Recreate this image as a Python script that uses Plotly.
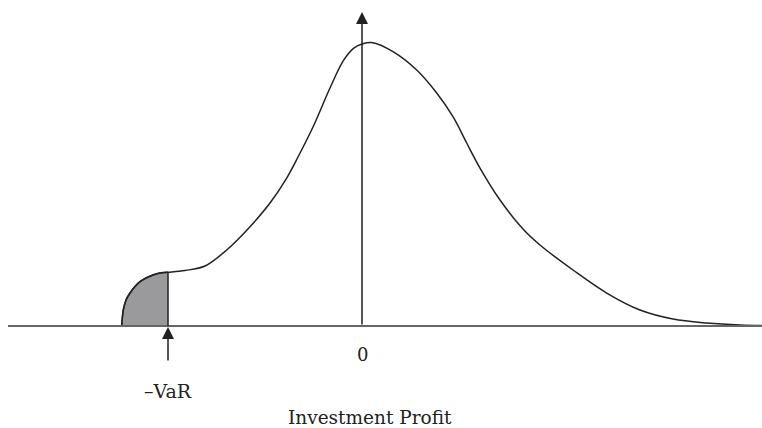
import plotly.graph_objects as go

# Investment profit (x, arbitrary units; 0 = break-even) and probability density (y)
profit = [-4.806, -4.79, -4.774, -4.72, -4.64, -4.54, -4.44, -4.32, -4.18, -4.04, -3.88,
          -3.54, -3.14, -2.706, -2.24, -1.84, -1.506, -1.28, -0.98, -0.64, -0.37, -0.17,
          0.0, 0.22, 0.62, 1.094, 1.494, 1.82, 2.094, 2.36, 2.76, 3.22, 3.56, 4.22,
          4.894, 5.56, 6.22, 6.894, 7.56, 8.0]
density = [0.0, 0.0143, 0.0229, 0.0371, 0.0471, 0.0564, 0.0633, 0.0686, 0.0729, 0.0757, 0.0767,
           0.0793, 0.0857, 0.1086, 0.1419, 0.1757, 0.2114, 0.2414, 0.2843, 0.34, 0.3794, 0.3967,
           0.4029, 0.4047, 0.3919, 0.3657, 0.3329, 0.299, 0.2614, 0.2257, 0.18, 0.1386, 0.1157, 0.08,
           0.0471, 0.0229, 0.01, 0.0043, 0.0014, 0.0007]

var_level = -3.88          # -VaR position on the profit axis
axis_x_range = [-7.08, 8.0]
axis_top = 0.4486
labels = {"zero": "0", "var": "\u2013VaR", "title": "Investment Profit"}

tail_x = [p for p in profit if p <= var_level]
tail_y = [d for p, d in zip(profit, density) if p <= var_level]

fig = go.Figure()

# shaded tail
fig.add_trace(go.Scatter(
    x=tail_x, y=tail_y, mode="lines", fill="tozeroy", fillcolor="#9a9a9c",
    line=dict(color="#222222", width=1.5, shape="spline", smoothing=1.0),
    hoverinfo="skip", showlegend=False))

# main curve
fig.add_trace(go.Scatter(
    x=profit, y=density, mode="lines",
    line=dict(color="#222222", width=1.5, shape="spline", smoothing=1.0),
    hoverinfo="skip", showlegend=False))

# horizontal axis line
fig.add_trace(go.Scatter(
    x=axis_x_range, y=[0, 0], mode="lines",
    line=dict(color="#666666", width=2), hoverinfo="skip", showlegend=False))

# VaR vertical line
var_top = tail_y[-1]
fig.add_trace(go.Scatter(
    x=[var_level, var_level], y=[0, var_top], mode="lines",
    line=dict(color="#222222", width=1.5), hoverinfo="skip", showlegend=False))

def font(size):
    return dict(family="DejaVu Serif", size=size, color="#222222")

# vertical axis arrow
fig.add_annotation(x=0, y=axis_top, ax=0, ay=0, xref="x", yref="y", axref="x", ayref="y",
                   showarrow=True, arrowhead=2, arrowsize=1.6, arrowwidth=1.5,
                   arrowcolor="#222222", text="")
# -VaR arrow
fig.add_annotation(x=var_level, y=-0.0014, ax=var_level, ay=-0.0514, xref="x", yref="y",
                   axref="x", ayref="y", showarrow=True, arrowhead=2, arrowsize=1.6,
                   arrowwidth=1.5, arrowcolor="#222222", text="")

fig.add_annotation(x=0, y=-0.0414, xref="x", yref="y", text=labels["zero"],
                   showarrow=False, font=font(18))
fig.add_annotation(x=var_level, y=-0.0929, xref="x", yref="y", text=labels["var"],
                   showarrow=False, font=font(19))
fig.add_annotation(x=0.16, y=-0.131, xref="x", yref="y", text=labels["title"],
                   showarrow=False, font=font(18.5))

fig.update_layout(
    width=762, height=428, margin=dict(l=0, r=0, t=0, b=0),
    paper_bgcolor="white", plot_bgcolor="white",
    xaxis=dict(range=[-7.24, 8.0], visible=False, fixedrange=True),
    yaxis=dict(range=[-102 / 700, 326 / 700], visible=False, fixedrange=True),
)

fig.write_html("out.html", config={"displayModeBar": False},
               post_script="document.body.style.margin='0';document.body.style.padding='0';")
